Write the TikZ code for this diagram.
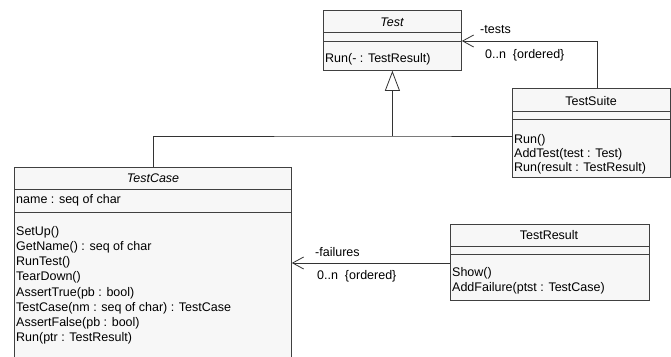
\documentclass[tikz,border=0pt]{standalone}
\usepackage{fontspec}
\setmainfont{Liberation Sans}
\usetikzlibrary{arrows.meta}
\begin{document}
\begin{tikzpicture}[x=1pt,y=-1pt,
  cls/.style={draw=black!75,fill=black!3,line width=0.8pt,anchor=north west,inner sep=0pt},
  sep/.style={draw=black!75,line width=0.8pt},
  txt/.style={anchor=west,inner sep=0pt,font=\fontsize{12.5}{15}\selectfont},
  ttl/.style={inner sep=0pt,font=\fontsize{12.5}{15}\selectfont},
  conn/.style={draw=black!80,line width=0.8pt},
  assoc/.style={conn,-{Straight Barb[length=11pt,width=12pt,line width=0.8pt]}},
  gen/.style={conn,-{Triangle[open,length=20pt,width=15pt,fill=white,line width=0.8pt]}}]
\useasboundingbox (0,0) rectangle (671,356);
\clip (0,0) rectangle (671,356);
\fill[white] (0,0) rectangle (671,356);

% Test
\node[cls,minimum width=138pt,minimum height=60pt] (test) at (323,10) {};
\draw[sep] (test.west |- 0,32) -- (test.east |- 0,32);
\draw[sep] (test.west |- 0,41) -- (test.east |- 0,41);
\node[ttl,font=\fontsize{12.5}{15}\selectfont\itshape] (testT) at (392,22) {Test};
\node[txt] (testO1) at (325,59) {Run(- : TestResult)};

% TestSuite
\node[cls,minimum width=158pt,minimum height=89pt] (suite) at (512,88) {};
\draw[sep] (suite.west |- 0,111) -- (suite.east |- 0,111);
\draw[sep] (suite.west |- 0,119) -- (suite.east |- 0,119);
\node[ttl] (suiteT) at (591,101) {TestSuite};
\node[txt] (suiteO1) at (514,140) {Run()};
\node[txt] (suiteO2) at (514,154) {AddTest(test : Test)};
\node[txt] (suiteO3) at (514,168) {Run(result : TestResult)};

% TestCase
\node[cls,minimum width=277pt,minimum height=200pt] (case) at (14,167) {};
\draw[sep] (case.west |- 0,189) -- (case.east |- 0,189);
\draw[sep] (case.west |- 0,212) -- (case.east |- 0,212);
\node[ttl,font=\fontsize{12.5}{15}\selectfont\itshape] (caseT) at (153,178) {TestCase};
\node[txt] (caseA1) at (16,200) {name : seq of char};
\node[txt] (caseO1) at (16,232) {SetUp()};
\node[txt] (caseO2) at (16,247.2) {GetName() : seq of char};
\node[txt] (caseO3) at (16,262.4) {RunTest()};
\node[txt] (caseO4) at (16,277.6) {TearDown()};
\node[txt] (caseO5) at (16,292.8) {AssertTrue(pb : bool)};
\node[txt] (caseO6) at (16,308) {TestCase(nm : seq of char) : TestCase};
\node[txt] (caseO7) at (16,323.2) {AssertFalse(pb : bool)};
\node[txt] (caseO8) at (16,338.4) {Run(ptr : TestResult)};

% TestResult
\node[cls,minimum width=199pt,minimum height=76pt] (result) at (450,224) {};
\draw[sep] (result.west |- 0,246) -- (result.east |- 0,246);
\draw[sep] (result.west |- 0,254) -- (result.east |- 0,254);
\node[ttl] (resultT) at (549,235) {TestResult};
\node[txt] (resultO1) at (452,273) {Show()};
\node[txt] (resultO2) at (452,288) {AddFailure(ptst : TestCase)};

% generalization
\coordinate (jn) at (test.south |- 0,136);
\draw[conn] (case.north) |- (jn) -- (suite.west |- jn);
\draw[gen] (jn) -- (test.south);

% associations
\coordinate (ts) at (597,0);
\draw[assoc] (suite.north -| ts) |- (test.east |- 0,41);
\node[txt] (l1) at (480,30) {-tests};
\node[txt] (l2) at (485,55) {0..n\ \ \{ordered\}};

\draw[assoc] (result.west |- 0,263) -- (case.east |- 0,263);
\node[txt] (l3) at (315,252) {-failures};
\node[txt] (l4) at (317,276) {0..n\ \ \{ordered\}};
\end{tikzpicture}
\end{document}
